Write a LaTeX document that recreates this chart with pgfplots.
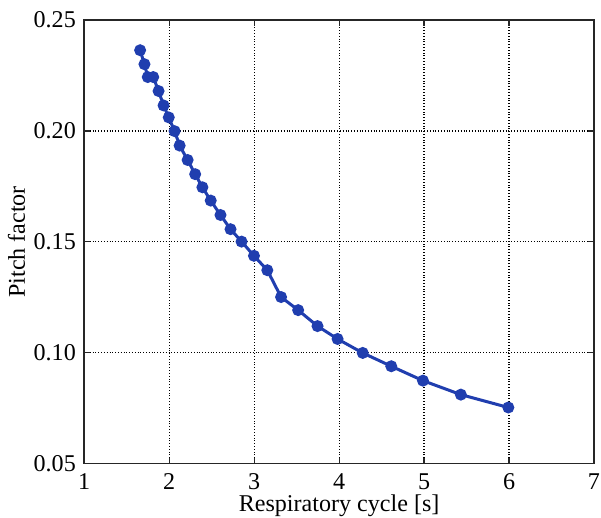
\documentclass[border=0pt]{standalone}
\usepackage{pgfplots}
\pgfplotsset{compat=1.18}
\usepackage{fontspec}
\setmainfont{Liberation Serif}
\definecolor{lineblue}{RGB}{32,62,175}
\begin{document}
\fontsize{12}{14}\selectfont
\begin{tikzpicture}
\begin{axis}[
  width=254pt, height=221pt, scale only axis,
  xmin=1, xmax=7, ymin=0.05, ymax=0.25,
  xtick={1,2,3,4,5,6,7},
  ytick={0.05,0.10,0.15,0.20,0.25},
  yticklabel style={/pgf/number format/.cd, fixed, fixed zerofill, precision=2},
  /pgf/number format/assume math mode=true,
  ticklabel style={font=\fontsize{12}{14}\selectfont},
  label style={font=\fontsize{12}{14}\selectfont},
  xlabel={Respiratory cycle [s]},
  ylabel={Pitch factor},
  xlabel style={inner ysep=0pt, yshift=1.7pt},
  ylabel style={yshift=-4pt},
  grid=major,
  major grid style={black, densely dotted, line width=0.6pt},
  axis line style={black!85, line width=0.8pt},
  tick style={black!85, line width=0.6pt},
  tick align=inside,
  major tick length=3pt,
  xticklabel style={yshift=-1pt, inner xsep=0.5pt},
]
\addplot[lineblue, line width=1.5pt, mark=*, mark size=2.2pt, mark options={fill=lineblue, draw=lineblue}] coordinates {
(1.658,0.2364)
(1.709,0.2301)
(1.748,0.2243)
(1.812,0.2243)
(1.875,0.2180)
(1.934,0.2115)
(1.995,0.2061)
(2.064,0.1999)
(2.123,0.1934)
(2.217,0.1869)
(2.306,0.1805)
(2.391,0.1746)
(2.489,0.1686)
(2.604,0.1621)
(2.722,0.1557)
(2.852,0.1501)
(2.998,0.1437)
(3.155,0.1372)
(3.317,0.1251)
(3.518,0.1192)
(3.746,0.1120)
(3.982,0.1062)
(4.278,0.0999)
(4.614,0.0939)
(4.987,0.0874)
(5.433,0.0811)
(5.992,0.0753)
};
\end{axis}
\path ([yshift=10pt]current axis.north);
\end{tikzpicture}
\end{document}
